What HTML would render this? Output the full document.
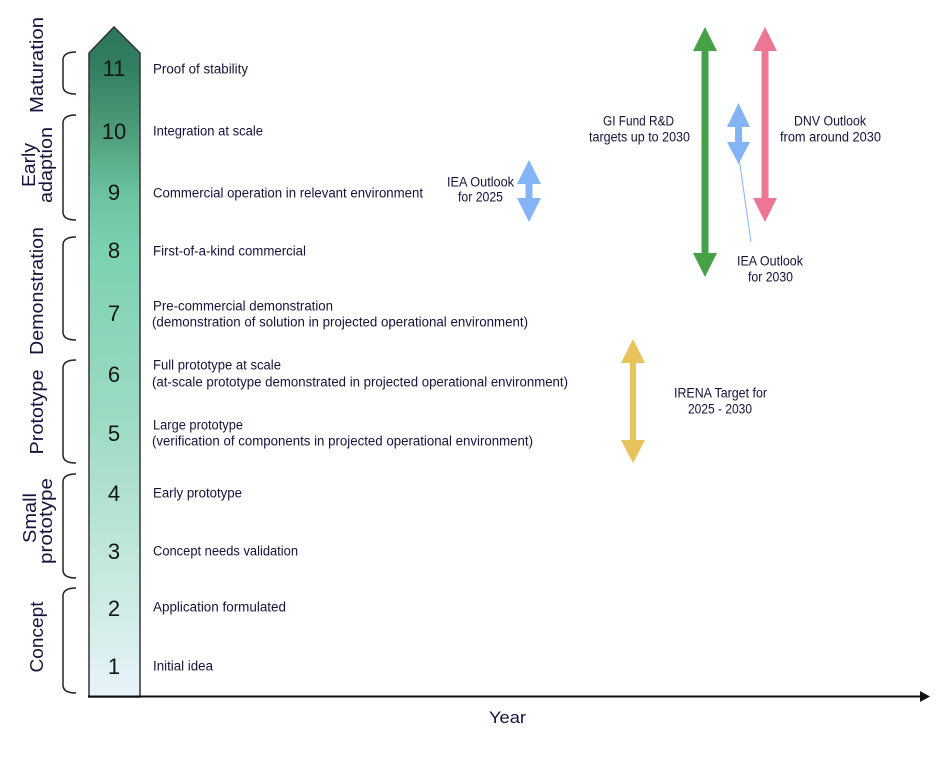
<!DOCTYPE html>
<html>
<head>
<meta charset="utf-8">
<style>
  html, body { margin: 0; padding: 0; background: #ffffff; }
  svg { display: block; }
  .lbl { font-family: "Liberation Sans", sans-serif; font-size: 13.5px; fill: #14143c; }
  .num { font-family: "Liberation Sans", sans-serif; font-size: 22px; fill: #151515; text-anchor: middle; }
  .side { font-family: "Liberation Sans", sans-serif; font-size: 18px; fill: #14143c; text-anchor: middle; }
  .ctr { font-family: "Liberation Sans", sans-serif; font-size: 13.5px; fill: #14143c; text-anchor: middle; }
</style>
</head>
<body>
<svg width="941" height="762" viewBox="0 0 941 762" xmlns="http://www.w3.org/2000/svg">
  <defs>
    <linearGradient id="col" x1="0" y1="27" x2="0" y2="697" gradientUnits="userSpaceOnUse">
      <stop offset="0" stop-color="#2d765a"/>
      <stop offset="0.061" stop-color="#327f60"/>
      <stop offset="0.155" stop-color="#4c9d7a"/>
      <stop offset="0.246" stop-color="#6ac29e"/>
      <stop offset="0.333" stop-color="#7ad2b0"/>
      <stop offset="0.606" stop-color="#a0dcc5"/>
      <stop offset="0.782" stop-color="#c0e7d9"/>
      <stop offset="1" stop-color="#e8f4fb"/>
    </linearGradient>
  </defs>

  <!-- Column -->
  <path d="M89,53 L114,27 L140,53 L140,697 L89,697 Z" fill="url(#col)" stroke="#333" stroke-width="1.5"/>

  <!-- Axis -->
  <line x1="88" y1="696.5" x2="921" y2="696.5" stroke="#111" stroke-width="2"/>
  <polygon points="920,691 930,696.5 920,702" fill="#111"/>
  <text class="ctr" x="507.5" y="723" style="font-size:17px" textLength="37" lengthAdjust="spacingAndGlyphs">Year</text>

  <!-- Braces -->
  <g fill="none" stroke="#222" stroke-width="1.5">
    <path d="M76,52 Q63,52 63,60 L63,86 Q63,94 76,94"/>
    <path d="M76,115 Q63,115 63,123 L63,212 Q63,220 76,220"/>
    <path d="M76,237 Q63,237 63,245 L63,332 Q63,340 76,340"/>
    <path d="M76,360 Q63,360 63,368 L63,455 Q63,463 76,463"/>
    <path d="M76,474 Q63,474 63,482 L63,570 Q63,578 76,578"/>
    <path d="M76,588 Q63,588 63,596 L63,685 Q63,693 76,693"/>
  </g>

  <!-- Side labels -->
  <text class="side" transform="translate(43,65) rotate(-90)" textLength="96" lengthAdjust="spacingAndGlyphs">Maturation</text>
  <text class="side" transform="translate(35,165) rotate(-90)" textLength="44" lengthAdjust="spacingAndGlyphs">Early</text>
  <text class="side" transform="translate(52,165) rotate(-90)" textLength="76" lengthAdjust="spacingAndGlyphs">adaption</text>
  <text class="side" transform="translate(43,291) rotate(-90)" textLength="128" lengthAdjust="spacingAndGlyphs">Demonstration</text>
  <text class="side" transform="translate(43,412) rotate(-90)" textLength="85" lengthAdjust="spacingAndGlyphs">Prototype</text>
  <text class="side" transform="translate(36,518) rotate(-90)" textLength="50" lengthAdjust="spacingAndGlyphs">Small</text>
  <text class="side" transform="translate(52,521) rotate(-90)" textLength="86" lengthAdjust="spacingAndGlyphs">prototype</text>
  <text class="side" transform="translate(43,637) rotate(-90)" textLength="71" lengthAdjust="spacingAndGlyphs">Concept</text>

  <!-- Numbers -->
  <text class="num" x="114" y="76">11</text>
  <text class="num" x="114" y="139">10</text>
  <text class="num" x="114" y="200">9</text>
  <text class="num" x="114" y="258">8</text>
  <text class="num" x="114" y="321">7</text>
  <text class="num" x="114" y="382">6</text>
  <text class="num" x="114" y="441">5</text>
  <text class="num" x="114" y="501">4</text>
  <text class="num" x="114" y="559">3</text>
  <text class="num" x="114" y="616">2</text>
  <text class="num" x="114" y="674">1</text>

  <!-- Level labels -->
  <text class="lbl" x="153" y="73.5" textLength="95" lengthAdjust="spacingAndGlyphs">Proof of stability</text>
  <text class="lbl" x="153" y="135.5" textLength="110" lengthAdjust="spacingAndGlyphs">Integration at scale</text>
  <text class="lbl" x="153" y="197.5" textLength="270" lengthAdjust="spacingAndGlyphs">Commercial operation in relevant environment</text>
  <text class="lbl" x="153" y="255.5" textLength="153" lengthAdjust="spacingAndGlyphs">First-of-a-kind commercial</text>
  <text class="lbl" x="153" y="310.5" textLength="180" lengthAdjust="spacingAndGlyphs">Pre-commercial demonstration</text>
  <text class="lbl" x="152" y="326.5" textLength="376" lengthAdjust="spacingAndGlyphs">(demonstration of solution in projected operational environment)</text>
  <text class="lbl" x="153" y="369.5" textLength="128" lengthAdjust="spacingAndGlyphs">Full prototype at scale</text>
  <text class="lbl" x="152" y="386.5" textLength="416" lengthAdjust="spacingAndGlyphs">(at-scale prototype demonstrated in projected operational environment)</text>
  <text class="lbl" x="153" y="429.5" textLength="90" lengthAdjust="spacingAndGlyphs">Large prototype</text>
  <text class="lbl" x="152" y="445.5" textLength="381" lengthAdjust="spacingAndGlyphs">(verification of components in projected operational environment)</text>
  <text class="lbl" x="153" y="497.5" textLength="89" lengthAdjust="spacingAndGlyphs">Early prototype</text>
  <text class="lbl" x="153" y="555.5" textLength="145" lengthAdjust="spacingAndGlyphs">Concept needs validation</text>
  <text class="lbl" x="153" y="611.5" textLength="133" lengthAdjust="spacingAndGlyphs">Application formulated</text>
  <text class="lbl" x="153" y="670.5" textLength="60" lengthAdjust="spacingAndGlyphs">Initial idea</text>

  <!-- Green arrow (GI Fund) -->
  <polygon fill="#46a046" points="705,27 717,51 708.5,51 708.5,253 717,253 705,277 693,253 701.5,253 701.5,51 693,51"/>
  <!-- Pink arrow (DNV) -->
  <polygon fill="#ec7694" points="765,27 777,51 768.5,51 768.5,198 777,198 765,222 753,198 761.5,198 761.5,51 753,51"/>
  <!-- Blue IEA 2030 -->
  <line x1="739" y1="158" x2="751" y2="242" stroke="#84b4f6" stroke-width="1"/>
  <polygon fill="#84b4f6" points="738.5,103 750,127 742,127 742,142 750,142 738.5,164 727,142 735,142 735,127 727,127"/>
  <!-- Blue IEA 2025 -->
  <polygon fill="#84b4f6" points="529,160 541,184 532.5,184 532.5,198 541,198 529,222 517,198 525.5,198 525.5,184 517,184"/>
  <!-- Yellow IRENA -->
  <polygon fill="#e8c25a" points="633,339 645,363 636,363 636,440 645,440 633,463 621,440 630,440 630,363 621,363"/>

  <!-- Arrow labels -->
  <text class="ctr" x="638.5" y="125.5" textLength="71" lengthAdjust="spacingAndGlyphs">GI Fund R&amp;D</text>
  <text class="ctr" x="639.5" y="141.5" textLength="101" lengthAdjust="spacingAndGlyphs">targets up to 2030</text>
  <text class="ctr" x="830" y="125.5" textLength="72" lengthAdjust="spacingAndGlyphs">DNV Outlook</text>
  <text class="ctr" x="830.5" y="141.5" textLength="101" lengthAdjust="spacingAndGlyphs">from around 2030</text>
  <text class="ctr" x="770" y="265.5" textLength="66" lengthAdjust="spacingAndGlyphs">IEA Outlook</text>
  <text class="ctr" x="770.5" y="281.5" textLength="45" lengthAdjust="spacingAndGlyphs">for 2030</text>
  <text class="ctr" x="480.5" y="186.5" textLength="67" lengthAdjust="spacingAndGlyphs">IEA Outlook</text>
  <text class="ctr" x="480.5" y="201.5" textLength="45" lengthAdjust="spacingAndGlyphs">for 2025</text>
  <text class="ctr" x="720.5" y="397.5" textLength="93" lengthAdjust="spacingAndGlyphs">IRENA Target for</text>
  <text class="ctr" x="720" y="413.5" textLength="64" lengthAdjust="spacingAndGlyphs">2025 - 2030</text>
</svg>
</body>
</html>
